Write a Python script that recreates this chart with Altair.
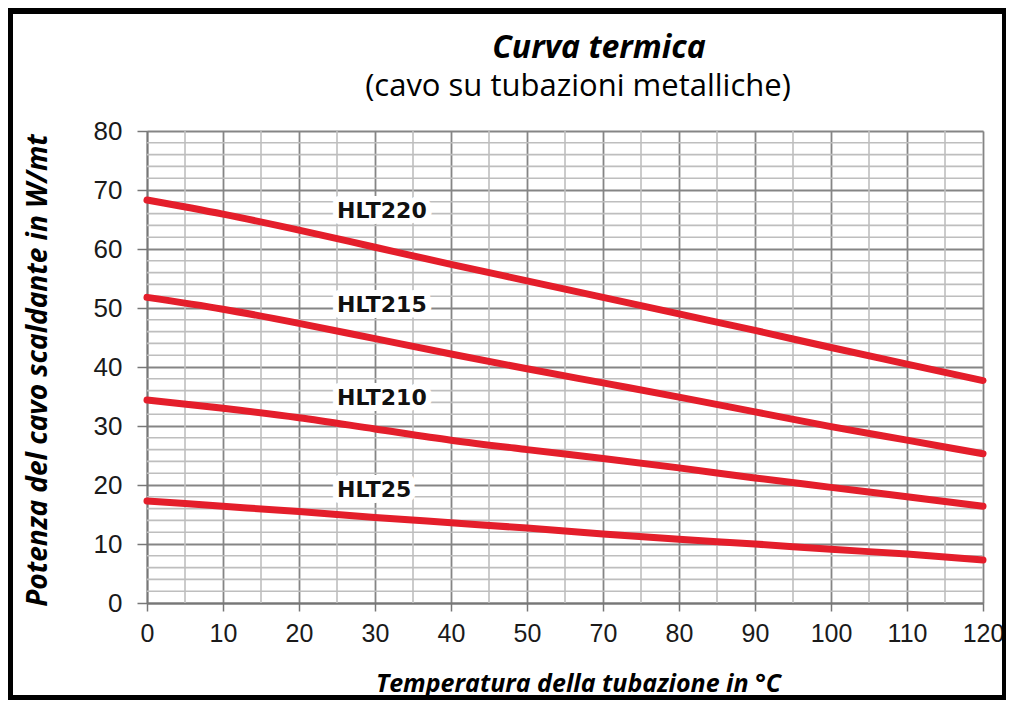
import altair as alt
import pandas as pd

# ---- data ----
x_labels = ["0", "10", "20", "30", "40", "50", "70", "80", "90", "100", "110", "120"]
x_pos = list(range(len(x_labels)))

hlt220 = [68.3, 65.9, 63.2, 60.3, 57.4, 54.6, 51.8, 49.0, 46.2, 43.3, 40.5, 37.7]
hlt215 = [51.8, 49.8, 47.4, 44.8, 42.2, 39.7, 37.3, 34.9, 32.4, 29.9, 27.6, 25.3]
hlt210 = [34.4, 33.0, 31.4, 29.5, 27.6, 26.0, 24.5, 22.9, 21.2, 19.6, 18.0, 16.4]
hlt25 = [17.3, 16.4, 15.5, 14.5, 13.6, 12.7, 11.7, 10.8, 10.0, 9.1, 8.3, 7.3]

series_names = ["HLT220", "HLT215", "HLT210", "HLT25"]
series_values = [hlt220, hlt215, hlt210, hlt25]

label_x = [2.5, 2.5, 2.5, 2.5]
label_y = [66.4, 50.5, 34.7, 19.2]

title_text = "Curva termica"
subtitle_text = "(cavo su tubazioni metalliche)"
x_title = "Temperatura della tubazione in °C"
y_title = "Potenza del cavo scaldante in W/mt"

y_major = list(range(0, 81, 10))
y_minor = [v for v in range(0, 81, 2) if v % 10]
x_minor = [i + 0.5 for i in x_pos[:-1]]

W, H = 836, 472

rows = []
for name, vals in zip(series_names, series_values):
    for xp, v in zip(x_pos, vals):
        rows.append({"x": xp, "value": v, "serie": name})
df = pd.DataFrame(rows)
labels_df = pd.DataFrame({"x": label_x, "value": label_y, "name": series_names})

xscale = alt.Scale(domain=[0, 11], nice=False, zero=False)
yscale = alt.Scale(domain=[0, 80], nice=False)

label_expr = "[" + ",".join("'" + s + "'" for s in x_labels) + "][datum.value]"

x_axis = alt.Axis(
    values=x_pos,
    labelExpr=label_expr,
    labelFlush=False,
    labelOverlap=False,
    grid=True,
    gridColor="#858585",
    gridWidth=1.8,
    domainColor="#777777",
    domainWidth=1.8,
    tickColor="#777777",
    tickWidth=1.5,
    tickSize=8,
    labelFont="Liberation Sans",
    labelFontSize=25,
    labelColor="#1a1a1a",
    labelPadding=10,
    title=x_title,
    titleFont="Open Sans",
    titleFontSize=25,
    titleFontStyle="italic",
    titleFontWeight="bold",
    titleColor="black",
    titleX=431,
    titleY=80,
    titleBaseline="middle",
)

y_axis = alt.Axis(
    values=y_major,
    labelFlush=False,
    grid=True,
    gridColor="#858585",
    gridWidth=1.8,
    domainColor="#777777",
    domainWidth=1.8,
    tickColor="#777777",
    tickWidth=1.5,
    tickSize=10,
    labelFont="Liberation Sans",
    labelFontSize=26,
    labelColor="#1a1a1a",
    labelPadding=15,
    title=y_title,
    titleFont="Open Sans",
    titleFontSize=28,
    titleFontStyle="italic",
    titleFontWeight="bold",
    titleColor="black",
    titleX=-109,
    titleY=239,
    titleAngle=270,
    titleBaseline="middle",
)

X = alt.X("x:Q", scale=xscale, axis=x_axis)
Y = alt.Y("value:Q", scale=yscale, axis=y_axis)

minor_v = alt.Chart(pd.DataFrame({"x": x_minor})).mark_rule(
    color="#bebebe", strokeWidth=1.6
).encode(x=X)

minor_h = alt.Chart(pd.DataFrame({"value": y_minor})).mark_rule(
    color="#bebebe", strokeWidth=1.6
).encode(y=Y)

lines = alt.Chart(df).mark_line(
    color="#e41e2b", strokeWidth=7, strokeCap="round", interpolate="monotone"
).encode(x=X, y=Y, detail="serie:N")

halo = alt.Chart(labels_df).mark_text(
    align="left", baseline="middle", font="DejaVu Sans", fontWeight="bold",
    fontSize=22, stroke="white", strokeWidth=12, fill="white", strokeJoin="round"
).encode(x=X, y=Y, text="name:N")

texts = alt.Chart(labels_df).mark_text(
    align="left", baseline="middle", font="DejaVu Sans", fontWeight="bold",
    fontSize=22, color="#111111"
).encode(x=X, y=Y, text="name:N")

title_mark = alt.Chart(pd.DataFrame({"t": [title_text]})).mark_text(
    align="center", baseline="middle", font="Open Sans", fontSize=32,
    fontStyle="italic", fontWeight="bold", color="black"
).encode(x=alt.value(452), y=alt.value(-83), text="t:N")

subtitle_mark = alt.Chart(pd.DataFrame({"t": [subtitle_text]})).mark_text(
    align="center", baseline="middle", font="Open Sans", fontSize=31,
    color="black"
).encode(x=alt.value(431), y=alt.value(-44), text="t:N")

frame = alt.Chart(pd.DataFrame({"a": [0]})).mark_rect(
    filled=False, stroke="black", strokeWidth=6
).encode(
    x=alt.value(-137), x2=alt.value(858), y=alt.value(-120), y2=alt.value(567)
)

chart = alt.layer(
    minor_v, minor_h, lines, halo, texts, title_mark, subtitle_mark, frame
).properties(
    width=W,
    height=H,
    padding={"left": 139, "top": 123, "right": 23, "bottom": 97},
    autosize=alt.AutoSizeParams(type="none"),
).configure_view(stroke=None).configure(background="white")

chart.save("out.html", embed_options={"renderer": "svg", "actions": False})
